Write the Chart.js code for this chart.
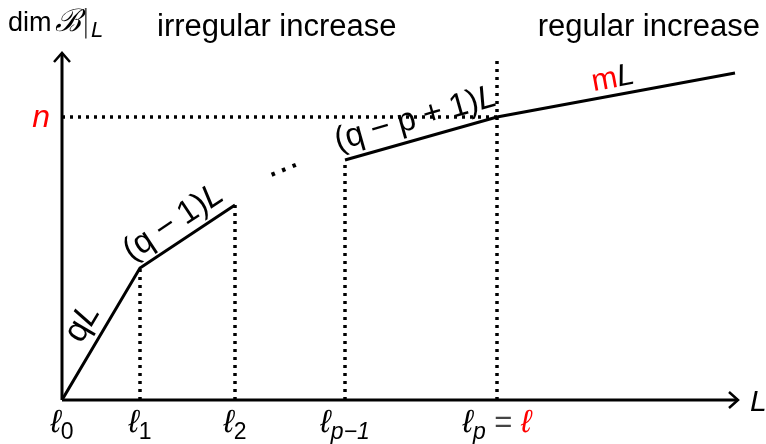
<!DOCTYPE html>
<html>
<head>
<meta charset="utf-8">
<script src="https://cdn.jsdelivr.net/npm/chart.js@4"></script>
<style>
  html, body { margin: 0; background: #fff; }
  #wrap { width: 766px; height: 444px; }
</style>
</head>
<body>
<div id="wrap"><canvas id="c"></canvas></div>
<script>
// ---- data: breakpoints ℓ0 … ℓp on the L axis and the piecewise curve dim B|L ----
const ellX = [0, 78, 173, 283, 435];
const ellSub = ['0', '1', '2', 'p−1', 'p'];
const curveX = [0, 78, 173, 228, 283, 435, 673];
const curveY = [0, 132, 195, null, 240, 283, 327];
const dropTop = [0, 132, 195, 240, 343];
const nLevel = 283;
const axisEnd = { x: 676, y: 347 };

const SANS = '"Liberation Sans", Arial, Helvetica, sans-serif';
const F = (size, style) => `${style || ''} ${size}px ${SANS}`;
const RED = '#ff0000';

// rich text: list of parts drawn one after another, optionally rotated
function rich(ctx, parts, x, y, angle, align) {
  ctx.save();
  ctx.translate(x, y);
  ctx.rotate(angle || 0);
  let w = 0;
  parts.forEach((p) => { ctx.font = p.f; p.w = ctx.measureText(p.t).width; w += p.w; });
  let cx = align === 'left' ? 0 : align === 'right' ? -w : -w / 2;
  ctx.textAlign = 'left';
  ctx.textBaseline = 'alphabetic';
  parts.forEach((p) => {
    ctx.font = p.f;
    ctx.fillStyle = p.c || '#000';
    ctx.fillText(p.t, cx, p.dy || 0);
    cx += p.w;
  });
  ctx.restore();
}

const decorations = {
  id: 'decorations',
  afterDatasetsDraw(chart) {
    const { ctx } = chart;
    const X = (v) => chart.scales.x.getPixelForValue(v);
    const Y = (v) => chart.scales.y.getPixelForValue(v);
    const ox = X(0), oy = Y(0);

    // ---- axes with open arrow heads ----
    ctx.save();
    ctx.strokeStyle = '#000';
    ctx.lineWidth = 3;
    ctx.lineCap = 'butt';
    ctx.beginPath();
    ctx.moveTo(ox, oy); ctx.lineTo(X(axisEnd.x), oy);
    ctx.moveTo(ox, oy); ctx.lineTo(ox, Y(axisEnd.y));
    ctx.stroke();
    ctx.lineWidth = 2.5;
    ctx.lineJoin = 'miter';
    ctx.beginPath();
    const ax = X(axisEnd.x), ay = Y(axisEnd.y);
    ctx.moveTo(ax - 9, oy - 8); ctx.lineTo(ax, oy); ctx.lineTo(ax - 9, oy + 8);
    ctx.moveTo(ox - 8, ay + 9); ctx.lineTo(ox, ay); ctx.lineTo(ox + 8, ay + 9);
    ctx.stroke();
    ctx.restore();

    // ---- segment labels, placed along each piece of the curve ----
    const P = (i) => ({ x: X(curveX[i]), y: Y(curveY[i]) });
    const along = (a, b, d, s, parts, size) => {
      const dx = b.x - a.x, dy = b.y - a.y, len = Math.hypot(dx, dy);
      const ux = dx / len, uy = dy / len;
      const nx = uy, ny = -ux;
      const mx = (a.x + b.x) / 2 + nx * d + ux * s;
      const my = (a.y + b.y) / 2 + ny * d + uy * s;
      parts.forEach((p) => { p.dy = (p.dy || 0) + size * 0.36; });
      rich(ctx, parts, mx, my, Math.atan2(dy, dx), 'center');
    };
    const sp = '\u2005';
    along(P(0), P(1), 24, 0, [{ t: 'q', f: F(34) }, { t: 'L', f: F(34, 'italic') }], 34);
    along(P(1), P(2), 22, -4, [{ t: '(q' + sp + '−' + sp + '1)', f: F(33) }, { t: 'L', f: F(33, 'italic') }], 33);
    along(P(2), P(4), 16, -1, [{ t: '⋯', f: F(34) }], 34);
    along(P(4), P(5), 23, 0, [{ t: '(q' + sp + '−' + sp + 'p' + sp + '+' + sp + '1)', f: F(33) }, { t: 'L', f: F(33, 'italic') }], 33);
    along(P(5), P(6), 19, 0, [{ t: 'm', f: F(31), c: RED }, { t: 'L', f: F(31, 'italic') }], 31);

    // ---- tick labels ℓ0 … ℓp ----
    ellX.forEach((v, i) => {
      const numeric = /^\d$/.test(ellSub[i]);
      const parts = [{ t: 'ℓ', f: F(32, 'italic') }, { t: ellSub[i], f: F(23, numeric ? '' : 'italic'), dy: 7 }];
      if (i === ellX.length - 1) {
        parts.push({ t: ' = ', f: F(31), c: '#444' });
        parts.push({ t: 'ℓ', f: F(32, 'italic'), c: RED });
      }
      rich(ctx, parts, X(v), oy + 32, 0, 'center');
    });

    // ---- axis names and n ----
    rich(ctx, [{ t: 'L', f: F(30, 'italic') }], X(axisEnd.x) + 12, oy + 11, 0, 'left');
    rich(ctx, [{ t: 'n', f: F(32, 'italic'), c: RED }], ox - 12, Y(nLevel) + 10, 0, 'right');
    rich(ctx, [
      { t: 'dim', f: F(27) },
      { t: ' ', f: F(12) },
      { t: 'ℬ', f: 'italic 31px "DejaVu Serif", serif' },
      { t: '|', f: '300 30px "DejaVu Sans", sans-serif', c: '#333' },
      { t: 'L', f: F(22, 'italic'), dy: 6 }
    ], 8, 31, 0, 'left');
    rich(ctx, [{ t: 'irregular increase', f: F(31) }], 157, 36, 0, 'left');
    rich(ctx, [{ t: 'regular increase', f: F(31) }], 760, 36, 0, 'right');
  }
};

const dotted = { borderColor: '#000', borderWidth: 3.5, borderDash: [3, 5], pointRadius: 0, borderCapStyle: 'butt' };
const datasets = [{
  data: curveX.map((x, i) => ({ x, y: curveY[i] })),
  borderColor: '#000',
  borderWidth: 3,
  pointRadius: 0,
  spanGaps: false,
  borderJoinStyle: 'miter'
}];
ellX.forEach((v, i) => {
  if (dropTop[i] > 0) datasets.push({ ...dotted, data: [{ x: v, y: 0 }, { x: v, y: dropTop[i] }] });
});
datasets.push({ ...dotted, data: [{ x: 0, y: nLevel }, { x: ellX[ellX.length - 1], y: nLevel }] });

new Chart(document.getElementById('c'), {
  type: 'line',
  data: { datasets },
  options: {
    responsive: true,
    maintainAspectRatio: false,
    animation: false,
    layout: { padding: { left: 62, right: 0, top: 0, bottom: 44 } },
    plugins: { legend: { display: false }, tooltip: { enabled: false } },
    elements: { line: { tension: 0 } },
    scales: {
      x: { type: 'linear', min: 0, max: 704, display: false },
      y: { type: 'linear', min: 0, max: 400, display: false }
    }
  },
  plugins: [decorations]
});
</script>
</body>
</html>
